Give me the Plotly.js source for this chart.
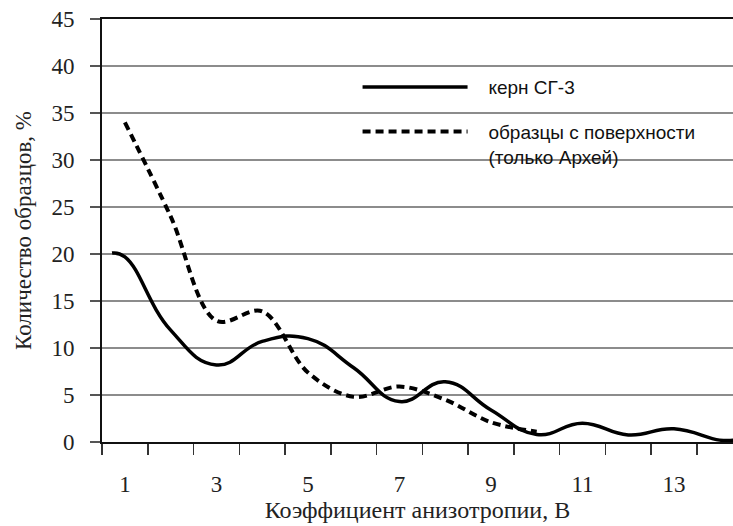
<!DOCTYPE html>
<html>
<head>
<meta charset="utf-8">
<script src="https://cdn.plot.ly/plotly-3.0.1.min.js"></script>
<style>html,body{margin:0;padding:0;background:#fff;}#chart{width:733px;height:526px;}</style>
</head>
<body>
<div id="chart"></div>
<script>
// Series: керн СГ-3 (solid)
var coreX = [0.72, 1, 2, 3, 4, 5, 6, 7, 8, 9, 10, 11, 12, 13, 14, 14.3];
var coreY = [20.1, 19.7, 11.9, 8.2, 10.7, 11.0, 7.9, 4.3, 6.4, 3.4, 0.8, 2.0, 0.75, 1.4, 0.2, 0.2];
// Series: образцы с поверхности (только Архей) (dashed)
var surfX = [1, 2, 3, 4, 5, 6, 7, 8, 9, 10];
var surfY = [34.0, 24.0, 12.9, 13.9, 7.4, 4.8, 5.9, 4.5, 2.1, 1.1];
// Tick labels
var xTickVals = [1, 3, 5, 7, 9, 11, 13];
var xTickText = ['1', '3', '5', '7', '9', '11', '13'];
var yTickVals = [0, 5, 10, 15, 20, 25, 30, 35, 40, 45];

var serif = 'Liberation Serif, Times New Roman, serif';
var sans = 'Liberation Sans, Arial, sans-serif';
var pad = '\u00a0\u00a0\u00a0';

var traces = [
  {x: coreX, y: coreY, type: 'scatter', mode: 'lines', name: pad + 'керн СГ-3', legendgroup: 'a',
   line: {color: '#000', width: 3.5, shape: 'spline', smoothing: 1.3}},
  {x: surfX, y: surfY, type: 'scatter', mode: 'lines', name: pad + 'образцы с поверхности<br>' + pad + '(только Архей)', legendgroup: 'b',
   line: {color: '#000', width: 4, dash: '8px,5px', shape: 'spline', smoothing: 1}}
];

var layout = {
  width: 733, height: 526,
  margin: {l: 102, r: 0, t: 19, b: 84},
  paper_bgcolor: '#fff', plot_bgcolor: '#fff',
  showlegend: true,
  legend: {x: 0.405, y: 0.884, xanchor: 'left', yanchor: 'top', bgcolor: 'rgba(0,0,0,0)',
    font: {family: sans, size: 19, color: '#111'}, itemwidth: 105, valign: 'top',
    traceorder: 'grouped', tracegroupgap: 17},
  xaxis: {
    range: [0.5, 14.29], tickmode: 'array', tickvals: xTickVals, ticktext: xTickText,
    ticks: 'outside', ticklen: 0, tickcolor: '#fff', ticklabelstandoff: 20,
    tickfont: {family: serif, size: 23, color: '#222'},
    showgrid: false, zeroline: false, showline: true, linecolor: '#111', linewidth: 2, mirror: true,
    minor: {tick0: 0.5, dtick: 1, ticks: 'outside', ticklen: 11, tickwidth: 1.5, tickcolor: '#333', showgrid: false},
    title: {text: 'Коэффициент анизотропии, В', font: {family: serif, size: 24, color: '#222'}, standoff: 5}
  },
  yaxis: {
    range: [0, 45], tickmode: 'array', tickvals: yTickVals,
    ticks: 'outside', ticklen: 10, tickwidth: 1.5, tickcolor: '#555',
    tickfont: {family: serif, size: 23, color: '#222'}, ticklabelstandoff: 11,
    showgrid: true, gridcolor: '#8c8c8c', gridwidth: 2, zeroline: false,
    showline: true, linecolor: '#111', linewidth: 2,
    title: {text: 'Количество образцов, %', font: {family: serif, size: 23, color: '#222'}, standoff: 13}
  }
};

Plotly.newPlot('chart', traces, layout, {displayModeBar: false, staticPlot: true});
</script>
</body>
</html>
